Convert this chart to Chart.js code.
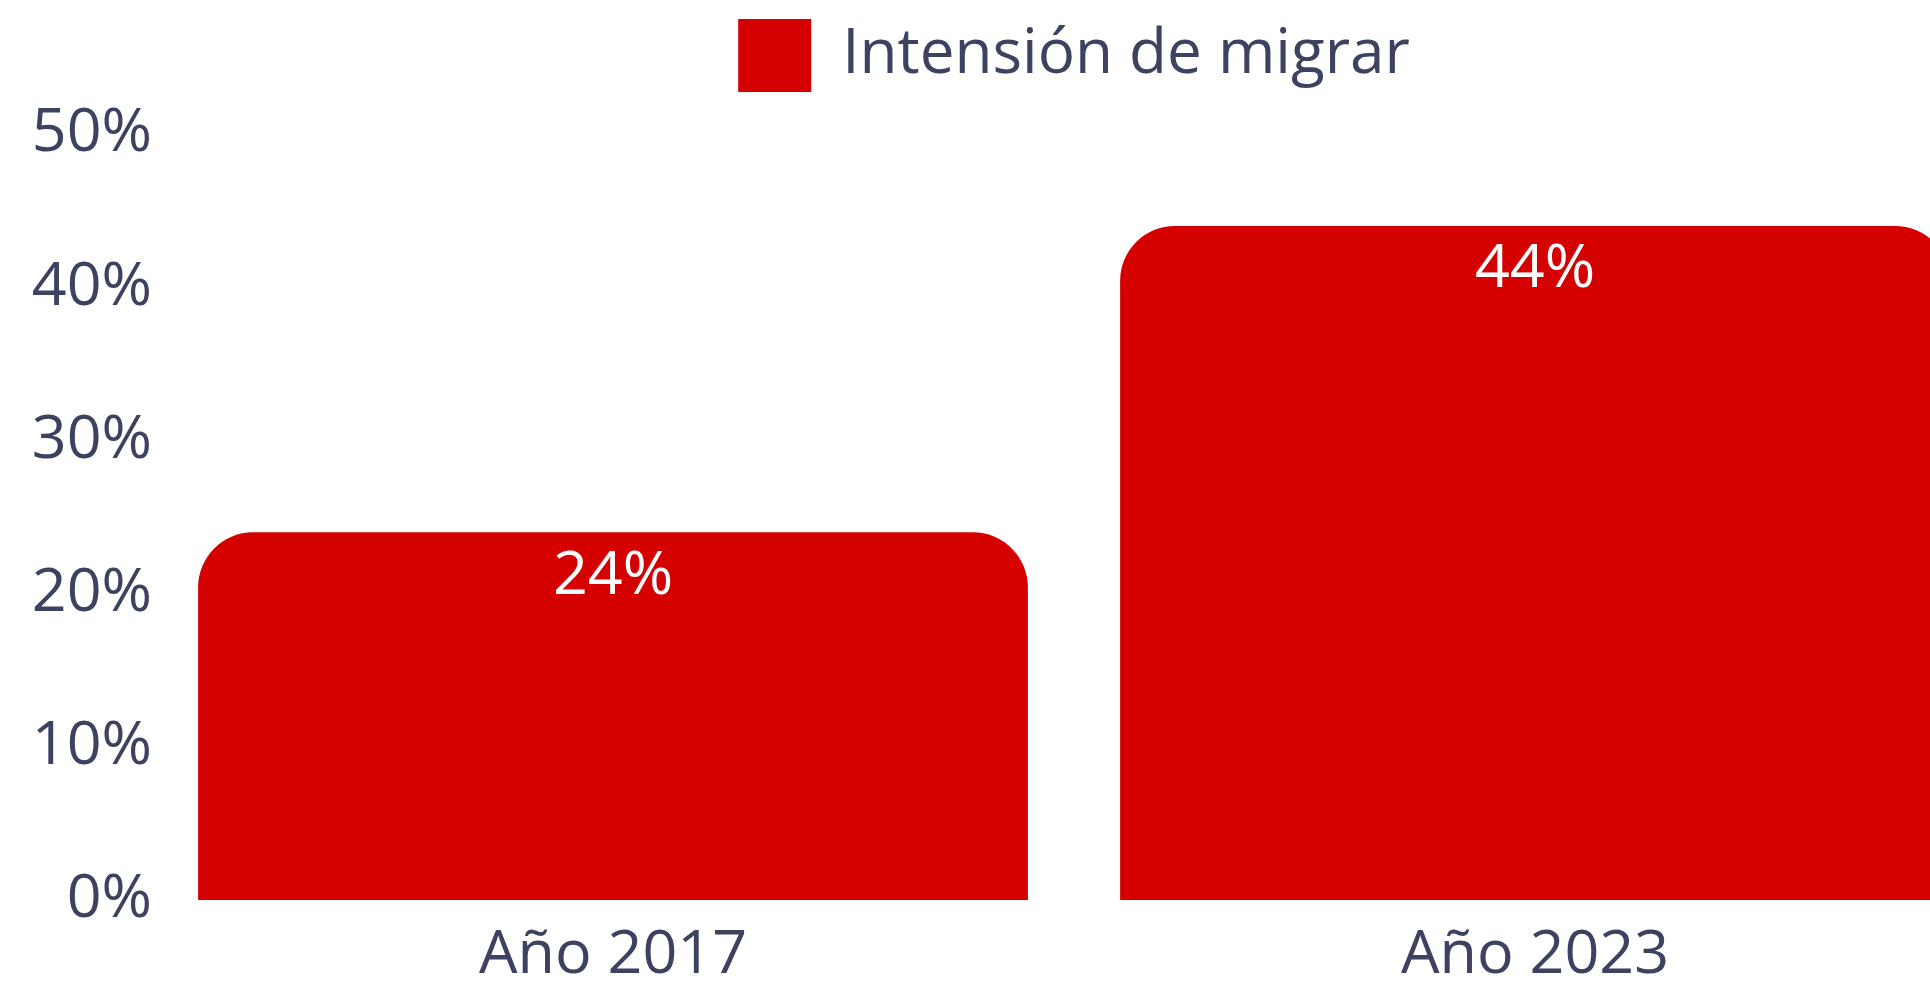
<!DOCTYPE html>
<html>
<head>
<meta charset="utf-8">
<script src="https://cdn.jsdelivr.net/npm/chart.js@4"></script>
<style>
  html, body { margin: 0; padding: 0; background: #fff; overflow: hidden; }
  #wrap { width: 2000px; height: 982px; }
</style>
</head>
<body>
<div id="wrap"><canvas id="chart"></canvas></div>
<script>
// datos
const categories = ["Año 2017", "Año 2023"];
const intension = [24, 44];
const seriesName = "Intensión de migrar";
const yTicks = [0, 10, 20, 30, 40, 50];

const textColor = "#3c4260";
const barColor = "#d50000";
const fontFamily = "'Open Sans', sans-serif";

// etiquetas blancas dentro de cada barra
const barLabels = {
  id: "barLabels",
  afterDatasetsDraw(chart) {
    const ctx = chart.ctx;
    const meta = chart.getDatasetMeta(0);
    ctx.save();
    ctx.fillStyle = "#ffffff";
    ctx.font = "61px " + fontFamily;
    ctx.textAlign = "center";
    ctx.textBaseline = "middle";
    meta.data.forEach((bar, i) => {
      ctx.fillText(intension[i] + "%", bar.x, bar.y + 44);
    });
    ctx.restore();
  }
};

// espacio extra debajo de la leyenda
const legendSpace = {
  id: "legendSpace",
  afterInit(chart) {
    const legend = chart.legend;
    const fit = legend.fit;
    legend.fit = function () {
      fit.call(this);
      this.height += 32;
    };
  }
};

const ctx = document.getElementById("chart").getContext("2d");
new Chart(ctx, {
  type: "bar",
  data: {
    labels: categories,
    datasets: [
      {
        label: seriesName,
        data: intension,
        backgroundColor: barColor,
        borderRadius: 55,
        barPercentage: 0.9,
        categoryPercentage: 1.0
      }
    ]
  },
  options: {
    responsive: true,
    maintainAspectRatio: false,
    animation: false,
    layout: { padding: { top: 15, right: 4, left: 0, bottom: 0 } },
    plugins: {
      tooltip: { enabled: false },
      legend: {
        display: true,
        fullSize: false,
        labels: {
          color: textColor,
          font: { family: fontFamily, size: 62 },
          boxWidth: 73,
          boxHeight: 73,
          padding: 4
        }
      }
    },
    scales: {
      x: {
        afterFit: axis => { axis.height = 82; },
        grid: { display: false, drawTicks: false },
        border: { display: false },
        ticks: {
          color: textColor,
          font: { family: fontFamily, size: 61 },
          padding: 19
        }
      },
      y: {
        min: 0,
        max: 50,
        afterFit: axis => { axis.width = 152; },
        afterBuildTicks: axis => { axis.ticks = yTicks.map(v => ({ value: v })); },
        grid: { display: false, drawTicks: false },
        border: { display: false },
        ticks: {
          color: textColor,
          font: { family: fontFamily, size: 61 },
          padding: 0,
          callback: value => value + "%"
        }
      }
    }
  },
  plugins: [barLabels, legendSpace]
});
</script>
</body>
</html>
